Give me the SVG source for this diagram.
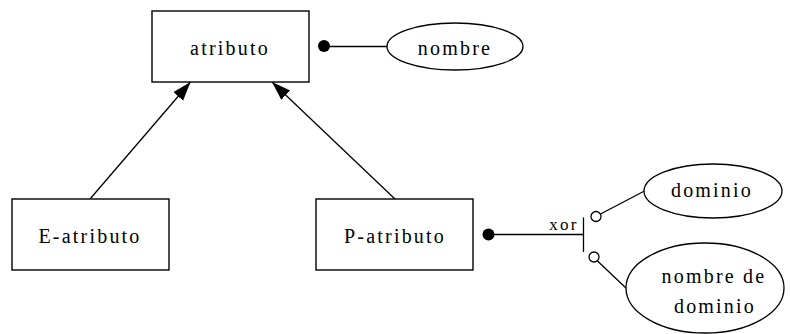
<svg xmlns="http://www.w3.org/2000/svg" width="790" height="334" viewBox="0 0 790 334">
<style>
  .box{fill:#fff;stroke:#000;stroke-width:1.4}
  .ell{fill:#fff;stroke:#000;stroke-width:1.3}
  .ln{fill:none;stroke:#000;stroke-width:1.3}
  .dot{fill:#000}
  .od{fill:#fff;stroke:#000;stroke-width:1.3}
</style>
<defs>
  <marker id="arr" markerUnits="userSpaceOnUse" markerWidth="20" markerHeight="14" refX="19" refY="6.5" orient="auto">
    <path d="M0,0 L19,6.5 L0,13 z" fill="#000"/>
  </marker>
</defs>
<g font-family="Liberation Serif, serif" font-size="20" letter-spacing="2.2" text-anchor="middle" fill="#000">
<g id="connectors">
  <line class="ln" x1="90" y1="199" x2="190.5" y2="82" marker-end="url(#arr)"/>
  <line class="ln" x1="395" y1="199" x2="272" y2="82" marker-end="url(#arr)"/>
  <line class="ln" x1="324" y1="46.5" x2="387" y2="46.5"/>
  <circle class="dot" cx="324" cy="46" r="6"/>
  <line class="ln" x1="488" y1="234.5" x2="583.5" y2="234.5"/>
  <circle class="dot" cx="488.5" cy="234.5" r="6"/>
  <line class="ln" x1="583.5" y1="217.5" x2="583.5" y2="252"/>
  <line class="ln" x1="600.5" y1="214" x2="644.5" y2="191"/>
  <circle class="od" cx="596" cy="216.5" r="5"/>
  <line class="ln" x1="597.5" y1="261" x2="626.5" y2="288.5"/>
  <circle class="od" cx="594" cy="257" r="5"/>
  <text x="564" y="230" font-size="17">xor</text>
</g>
<g id="atributo">
  <rect class="box" x="152" y="11" width="157" height="71"/>
  <text x="230" y="55">atributo</text>
</g>
<g id="nombre">
  <ellipse class="ell" cx="455" cy="46.5" rx="68" ry="23.5"/>
  <text x="455" y="55">nombre</text>
</g>
<g id="E-atributo">
  <rect class="box" x="12" y="199" width="157" height="71"/>
  <text x="90" y="243">E-atributo</text>
</g>
<g id="P-atributo">
  <rect class="box" x="316" y="199" width="157" height="71"/>
  <text x="395" y="243">P-atributo</text>
</g>
<g id="dominio">
  <ellipse class="ell" cx="713" cy="191" rx="69" ry="27"/>
  <text x="712" y="197">dominio</text>
</g>
<g id="nombre-de-dominio">
  <ellipse class="ell" cx="705" cy="288" rx="79" ry="45"/>
  <text x="714" y="283">nombre de</text>
  <text x="715" y="313">dominio</text>
</g>
</g>
</svg>
